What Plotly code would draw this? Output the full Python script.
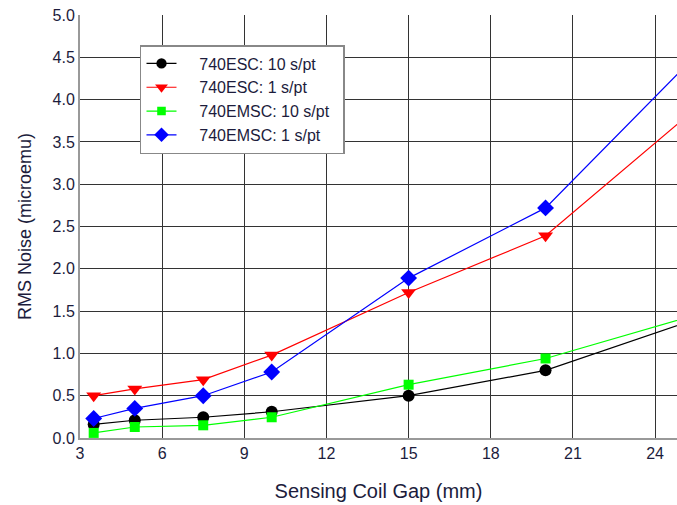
import plotly.graph_objects as go

gap_mm = [3.5, 5, 7.5, 10, 15, 20, 25]
esc_10 = [0.16, 0.21, 0.245, 0.31, 0.50, 0.80, 1.35]
esc_1 = [0.50, 0.58, 0.69, 0.98, 1.72, 2.39, 3.76]
emsc_10 = [0.06, 0.13, 0.15, 0.245, 0.63, 0.94, 1.41]
emsc_1 = [0.23, 0.35, 0.50, 0.78, 1.89, 2.72, 4.36]

series = [
    ("740ESC: 10 s/pt", esc_10, "#000000", "circle", 12),
    ("740ESC: 1 s/pt", esc_1, "#ff0000", "triangle-down", 13),
    ("740EMSC: 10 s/pt", emsc_10, "#00ff00", "square", 10),
    ("740EMSC: 1 s/pt", emsc_1, "#0000ff", "diamond", 13),
]

pad = "\u00a0\u00a0\u00a0\u00a0"
tail = "\u00a0\u00a0"
fig = go.Figure()
for name, vals, color, sym, sz in series:
    sizes = [sz] * (len(gap_mm) - 1) + [0]
    fig.add_trace(go.Scatter(
        x=gap_mm, y=vals, name=pad + name + tail, mode="lines+markers",
        line=dict(color=color, width=1.2),
        marker=dict(color=color, symbol=sym, size=sizes, opacity=1, line=dict(width=0)),
    ))

txt = "#1c1c3c"
fig.update_layout(
    width=677, height=505,
    margin=dict(l=80, r=0, t=15, b=67, autoexpand=False),
    paper_bgcolor="white", plot_bgcolor="white",
    font=dict(family="Liberation Sans, Arial, sans-serif", color=txt, size=16),
    legend=dict(
        x=0.1005, y=0.929, xanchor="left", yanchor="top",
        bgcolor="white", bordercolor="#888888", borderwidth=1.5,
        font=dict(size=16, color=txt),
    ),
    showlegend=True,
)
fig.update_xaxes(
    range=[3, 24.8], tick0=3, dtick=3, showgrid=True, gridcolor="#333333", gridwidth=1,
    showline=True, linecolor="#999999", linewidth=2, zeroline=False, automargin=False,
    ticks="", tickfont=dict(size=16, color=txt), ticklabeloverflow="allow",
    title=dict(text="Sensing Coil Gap (mm)", font=dict(size=20, color=txt), standoff=23),
)
fig.update_yaxes(
    range=[0, 5], tick0=0, dtick=0.5, tickformat=".1f", showgrid=True, gridcolor="#333333", gridwidth=1,
    showline=True, linecolor="#999999", linewidth=2, zeroline=False, automargin=False,
    ticks="", tickfont=dict(size=16, color=txt), ticklabeloverflow="allow",
    title=dict(text="RMS Noise (microemu)", font=dict(size=18, color=txt), standoff=16),
)
fig.write_html("out.html", config={"displayModeBar": False},
               post_script="document.body.style.margin='0';")
